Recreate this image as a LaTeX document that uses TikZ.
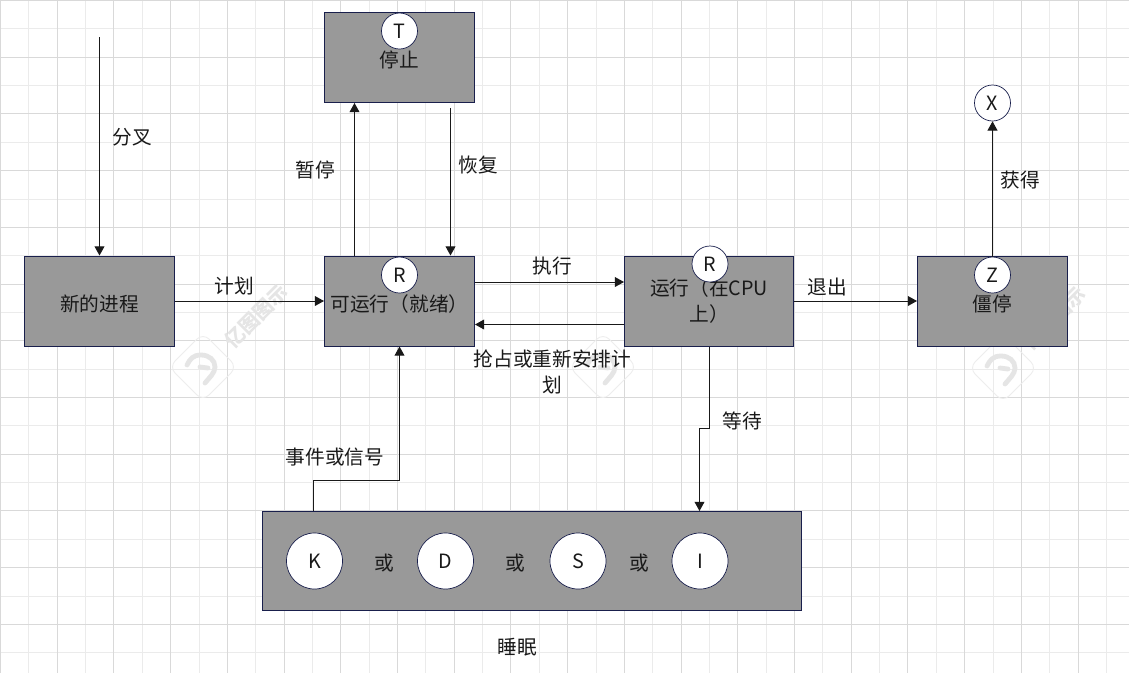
\documentclass[tikz,border=0pt]{standalone}
\usepackage{fontspec}
\setmainfont{Noto Sans CJK SC}
\usepackage{xcolor}
\usetikzlibrary{arrows.meta,calc}
\definecolor{boxgray}{rgb}{0.60, 0.60, 0.60}
\definecolor{inkblue}{rgb}{0.10, 0.12, 0.30}
\definecolor{gridmajor}{rgb}{0.85, 0.85, 0.85}
\definecolor{gridminor}{rgb}{0.92, 0.92, 0.92}
\definecolor{markgray}{rgb}{0.90, 0.90, 0.90}
\definecolor{textgray}{rgb}{0.10, 0.10, 0.10}

\begin{document}
\begin{tikzpicture}[x=0.025cm,y=-0.025cm,font=\fontsize{14}{18.5}\selectfont,text=textgray]
        % Define the styles
        \tikzstyle{statebox}=[rectangle,draw=inkblue,fill=boxgray,line width=0.7pt,minimum width=3.75cm,minimum height=2.25cm,inner sep=0pt,align=center]
        \tikzstyle{lowtext}=[text height=14.5pt,text depth=0pt]
        \tikzstyle{tag}=[circle,draw=inkblue,fill=white,line width=0.5pt,inner sep=0pt,minimum size=0.9cm]
        \tikzstyle{bigtag}=[tag,minimum size=1.4cm]
        \tikzstyle{flow}=[draw=black!90,line width=0.7pt,-{Triangle[length=6.5pt,width=7pt]}]
        \tikzstyle{label}=[inner sep=0pt,align=center]
        \tikzstyle{markicon}=[rectangle,rounded corners=6pt,draw=markgray!70,line width=0.6pt,rotate=45,minimum size=1.2cm]
        \tikzstyle{marktext}=[text=markgray,rotate=45,inner sep=0pt,font=\fontsize{14}{14}\selectfont\bfseries]
        \tikzstyle{markline}=[markgray,line width=3.4pt,line cap=round]

        \useasboundingbox (0,0) rectangle (1129,672);
        \fill[white] (0,0) rectangle (1129,672);

        % Background grid
        \begin{scope}[shift={(0.5,0.5)}]
            \draw[gridminor,line width=0.7pt,step=0.70875cm] (-1,-1) grid (1135,680);
            \draw[gridmajor,line width=0.7pt,step=1.4175cm] (-1,-1) grid (1135,680);
        \end{scope}

        % Faint marks behind the boxes
        \foreach \mx/\my [count=\n] in {203/367,603/367,1003/368} {
            \node (mark\n)[markicon] at (\mx,\my) {};
            \draw[markline] ($(mark\n.center)+(-16,-2)$) .. controls +(3,-6) and +(-8,0) .. ($(mark\n.center)+(-2,-12)$) .. controls +(8,0) and +(0,-7) .. ($(mark\n.center)+(12,0)$) .. controls +(0,6) and +(4,-5) .. ($(mark\n.center)+(2,16)$);
            \draw[markline] ($(mark\n.center)+(-3,0)$) -- ($(mark\n.center)+(5,1)$);
        }
        \node (marklabel1)[marktext] at (256,316) {亿图图示};
        \node (marklabel3)[marktext] at (1054,318) {亿图图示};

        % State boxes
        \node (newproc)[statebox,lowtext] at (99.5,301) {新的进程};
        \node (stopped)[statebox,lowtext] at (399.5,57.5) {停止};
        \node (ready)[statebox,lowtext] at (399.5,301) {可运行（就绪）};
        \node (running)[statebox,minimum width=4.225cm] at (709,301) {运行（在CPU\\上）};
        \node (zombie)[statebox,lowtext] at (992.5,301) {僵停};
        \node (sleeping)[statebox,minimum width=13.45cm,minimum height=2.475cm] at (532,561) {};

        % Free end of the fork line
        \coordinate (forktop) at (99.5,37);

        % Connectors
        \draw[flow] (forktop) -- (newproc.north);
        \draw[flow] (newproc.east) -- (ready.west);
        \draw[flow] ($(ready.north)+(-45,0)$) -- ($(stopped.south)+(-45,0)$);
        \draw[flow] ($(stopped.south)+(51,5)$) -- ($(ready.north)+(51,0)$);
        \draw[flow] ($(ready.east)+(0,-19)$) -- ($(running.west)+(0,-19)$);
        \draw[flow] ($(running.west)+(0,23.5)$) -- ($(ready.east)+(0,23.5)$);
        \draw[flow] (running.east) -- (zombie.west);
        \draw[flow] (running.south) -- ++(0,81.5) -| ($(sleeping.north)+(167.5,0)$);
        \draw[flow] ($(sleeping.north)+(-218.5,0)$) -- ++(0,-30.5) -| (ready.south);

        % Tags on the boxes
        \node (tagT)[tag] at (399.5,31) {T};
        \node (tagready)[tag] at (399.5,275) {R};
        \node (tagrun)[tag] at (710,264) {R};
        \node (tagZ)[tag] at (992.5,275) {Z};
        \node (tagX)[tag] at (992.5,103) {X};
        \draw[flow] (tagZ.north) -- (tagX.south);

        % Sleep states
        \node (tagK)[bigtag] at (314.5,561) {K};
        \node (tagD)[bigtag] at (445.5,561) {D};
        \node (tagS)[bigtag] at (578,561) {S};
        \node (tagI)[bigtag] at (700,561) {I};
        \node (or1)[label] at (384,563) {或};
        \node (or2)[label] at (515.5,563) {或};
        \node (or3)[label] at (639,563) {或};

        % Labels
        \node (forklabel)[label] at (132,137) {分叉};
        \node (planlabel)[label] at (234.5,286) {计划};
        \node (pauselabel)[label] at (315,170) {暂停};
        \node (resumelabel)[label] at (478,165) {恢复};
        \node (execlabel)[label] at (552.5,266) {执行};
        \node (preemptlabel)[label] at (552.5,372) {抢占或重新安排计\\划};
        \node (exitlabel)[label] at (827.5,287) {退出};
        \node (reaplabel)[label] at (1020.5,180) {获得};
        \node (waitlabel)[label] at (742,421) {等待};
        \node (eventlabel)[label] at (335,457) {事件或信号};
        \node (sleeplabel)[label] at (517,647) {睡眠};
\end{tikzpicture}
\end{document}
